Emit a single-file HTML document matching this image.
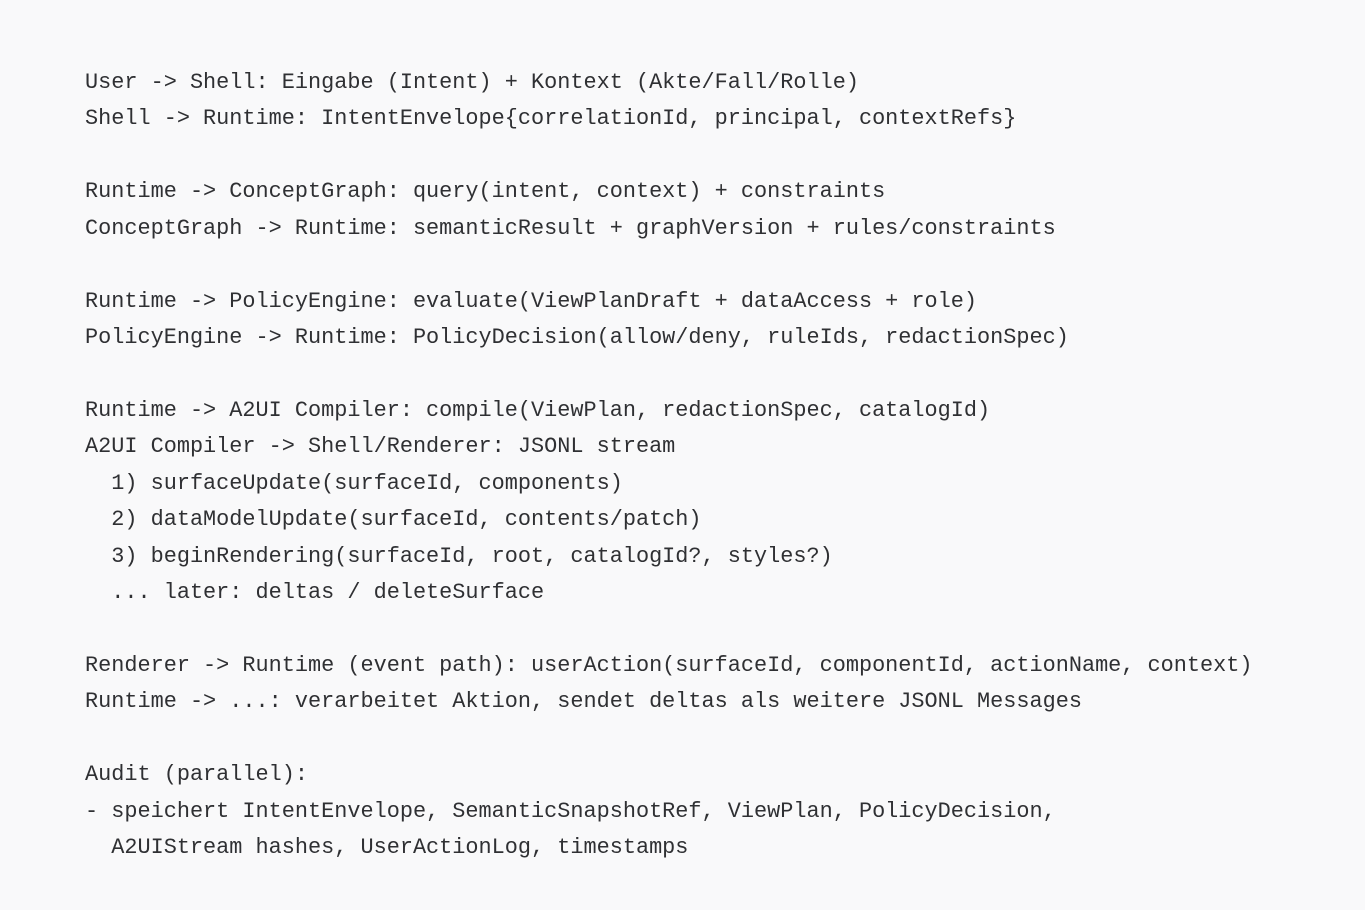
<!DOCTYPE html>
<html><head><meta charset="utf-8"><style>
html,body{margin:0;padding:0;width:1365px;height:910px;background:#f9f9fa;overflow:hidden}
pre{margin:0;position:absolute;left:85px;top:65px;font-family:"Liberation Mono",monospace;font-size:21.87px;line-height:36.43px;color:#2f3033;white-space:pre}
</style></head><body><pre>User -&gt; Shell: Eingabe (Intent) + Kontext (Akte/Fall/Rolle)
Shell -&gt; Runtime: IntentEnvelope{correlationId, principal, contextRefs}

Runtime -&gt; ConceptGraph: query(intent, context) + constraints
ConceptGraph -&gt; Runtime: semanticResult + graphVersion + rules/constraints

Runtime -&gt; PolicyEngine: evaluate(ViewPlanDraft + dataAccess + role)
PolicyEngine -&gt; Runtime: PolicyDecision(allow/deny, ruleIds, redactionSpec)

Runtime -&gt; A2UI Compiler: compile(ViewPlan, redactionSpec, catalogId)
A2UI Compiler -&gt; Shell/Renderer: JSONL stream
  1) surfaceUpdate(surfaceId, components)
  2) dataModelUpdate(surfaceId, contents/patch)
  3) beginRendering(surfaceId, root, catalogId?, styles?)
  ... later: deltas / deleteSurface

Renderer -&gt; Runtime (event path): userAction(surfaceId, componentId, actionName, context)
Runtime -&gt; ...: verarbeitet Aktion, sendet deltas als weitere JSONL Messages

Audit (parallel):
- speichert IntentEnvelope, SemanticSnapshotRef, ViewPlan, PolicyDecision,
  A2UIStream hashes, UserActionLog, timestamps</pre></body></html>
